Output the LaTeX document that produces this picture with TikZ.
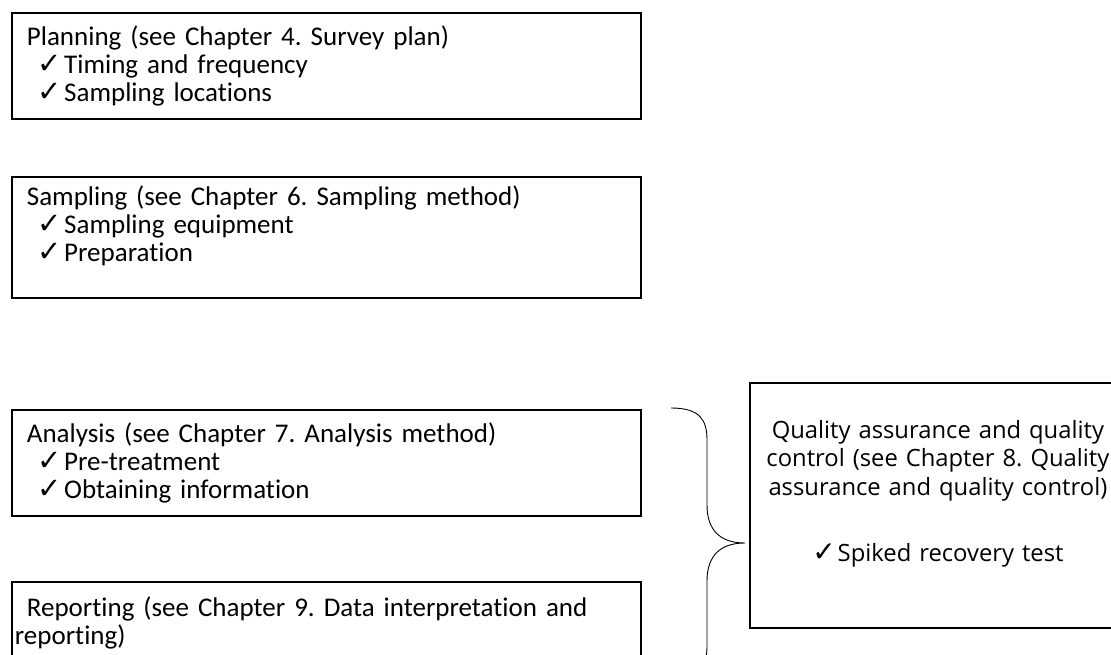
\documentclass[tikz,border=0pt]{standalone}
\usepackage{fontspec}
\setmainfont[RawFeature=-liga]{Carlito}
\newfontfamily\qafont{Open Sans}
\newfontfamily\symfont{DejaVu Sans}
\usepackage{tikz}
\usetikzlibrary{positioning}
\frenchspacing
\newcommand{\chk}{\hspace*{23pt}{\symfont\fontsize{29}{28}\selectfont ✓}\hspace{2pt}}
\newcommand{\hd}{\hspace*{12pt}}
\tikzset{
  stagebox/.style={draw, line width=1.8pt, anchor=north west, align=left,
    text width=623pt, inner xsep=3pt, inner ysep=0pt,
    font=\fontsize{27}{28}\selectfont},
  qabox/.style={draw, line width=1.8pt, anchor=north west, align=center,
    text width=370pt, inner xsep=3pt, inner ysep=0pt,
    font=\qafont\fontsize{23.8}{28.5}\selectfont}
}

\begin{document}
\begin{tikzpicture}[x=1pt,y=-1pt]
\clip (0,0) rectangle (1111,655);
\node[stagebox, minimum height=106pt] (plan) at (11,12)
  {\hd Planning (see Chapter 4. Survey plan)\\ \chk Timing and frequency\\ \chk Sampling locations};
\node[stagebox, minimum height=121pt] (samp) at (11,176)
  {\hd Sampling (see Chapter 6. Sampling method)\\ \chk Sampling equipment\\ \chk Preparation\\ ~};
\node[stagebox, minimum height=106pt] (anal) at (11,409)
  {\hd Analysis (see Chapter 7. Analysis method)\\ \chk Pre-treatment\\ \chk Obtaining information};
\node[stagebox, minimum height=106pt] (report) at (11,581)
  {\hd Reporting (see Chapter 9. Data interpretation and\\ reporting)\\ ~};
\node[qabox, minimum height=245pt] (qaqc) at (749,382)
  {Quality assurance and quality\\ control (see Chapter 8. Quality\\ assurance and quality control)\\[38pt]
   {\symfont\fontsize{28}{28}\selectfont ✓}\hspace{2pt}Spiked recovery test\\ ~};
% brace round analysis and reporting
\coordinate (tip) at ([xshift=-4pt]qaqc.west |- 0,543);
\draw[line width=0.9pt] (671,408) .. controls (700,408) and (707,420) .. (707,440)
  -- (707,505) .. controls (707,530) and (720,543) .. (tip)
  .. controls (720,543) and (707,556) .. (707,581)
  -- (707,646) .. controls (707,666) and (700,678) .. (671,678);
\end{tikzpicture}
\end{document}
